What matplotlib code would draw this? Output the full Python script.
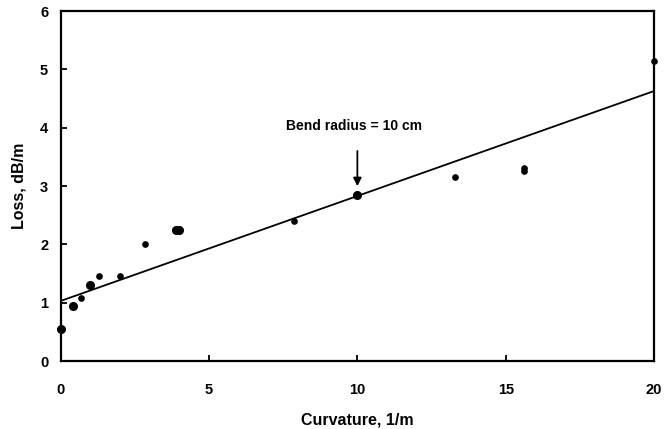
# bend loss vs curvature
import matplotlib
matplotlib.use('Agg')
import matplotlib.pyplot as plt
import numpy as np

# data
big_x = [0.0, 0.4, 1.0, 3.9, 4.0, 10.0]
big_y = [0.55, 0.95, 1.30, 2.24, 2.24, 2.85]
small_x = [0.7, 1.3, 2.0, 2.85, 7.85, 13.3, 15.6, 15.6, 20.0]
small_y = [1.08, 1.45, 1.45, 2.00, 2.40, 3.16, 3.26, 3.31, 5.15]
fit_x = [0, 20]
fit_y = [1.03, 4.63]
xticks = [0, 5, 10, 15, 20]
yticks = [0, 1, 2, 3, 4, 5, 6]

matplotlib.rcParams['font.family'] = 'Liberation Sans'
matplotlib.rcParams['font.weight'] = 'bold'

fig = plt.figure(figsize=(6.64, 4.29), dpi=100)
ax = fig.add_axes([0.0914, 0.1585, 0.8936, 0.8155])

ax.plot(fit_x, fit_y, color='black', linewidth=1.3, zorder=2)
ax.plot(big_x, big_y, 'o', color='black', markersize=5.5, zorder=3, clip_on=False)
ax.plot(small_x, small_y, 'o', color='black', markersize=3.8, zorder=3, clip_on=False)

ax.annotate('', xy=(10, 2.95), xytext=(10, 3.65),
            arrowprops=dict(arrowstyle='-|>', color='black', lw=1.3,
                            mutation_scale=12))
ax.text(9.9, 4.03, 'Bend radius = 10 cm', ha='center', va='center',
        fontsize=10, fontweight='bold')

ax.set(xlim=[0, 20], ylim=[0, 6])
ax.set_xticks(xticks)
ax.set_yticks(yticks)
ax.tick_params(axis='both', direction='in', length=4, width=1.3,
               labelsize=10.5)
ax.tick_params(axis='x', pad=16)
ax.tick_params(axis='y', pad=9)

for s in ax.spines.values():
    s.set_linewidth(1.6)

ax.set_xlabel('Curvature, 1/m', fontsize=11.5, fontweight='bold', labelpad=11)
ax.set_ylabel('Loss, dB/m', fontsize=11.5, fontweight='bold', labelpad=10)

plt.savefig('out.png', dpi=100)
